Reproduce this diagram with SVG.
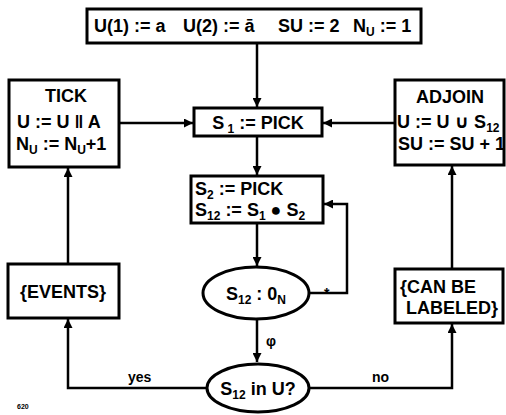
<svg xmlns="http://www.w3.org/2000/svg" width="506" height="415" viewBox="0 0 506 415">
<style>
.box{fill:#fff;stroke:#000;stroke-width:3}
.ln{fill:none;stroke:#000;stroke-width:2.5;marker-end:url(#ah)}
text{font-family:"Liberation Sans","DejaVu Sans",Arial,sans-serif;font-weight:bold;font-size:18px;fill:#000}
.c{text-anchor:middle}
.lbl{font-size:14px}
.sub{font-size:12px}
</style>
<defs>
<marker id="ah" viewBox="0 0 10 10" refX="10" refY="5" markerWidth="9" markerHeight="9" markerUnits="userSpaceOnUse" orient="auto">
<path d="M0,0 L10,5 L0,10 Z" fill="#000"/>
</marker>
</defs>
<rect width="506" height="415" fill="#fff"/>
<g id="connectors">
<path class="ln" d="M257,43 V107"/>
<path class="ln" d="M119,123 H193"/>
<path class="ln" d="M395,123 H323"/>
<path class="ln" d="M257,136 V175"/>
<path class="ln" d="M257,223 V266"/>
<path class="ln" d="M310,293 H347 V204 H324"/>
<path class="ln" d="M257,320 V362"/>
<path class="ln" d="M207,388 H68 V319"/>
<path class="ln" d="M68,263 V168"/>
<path class="ln" d="M310,388 H452 V324"/>
<path class="ln" d="M452,269 V166"/>
<text class="lbl" x="128" y="382">yes</text>
<text class="lbl" x="372" y="382">no</text>
<text class="lbl" x="266" y="346">φ</text>
<text class="lbl" x="324" y="298">*</text>
</g>
<g id="init">
<rect class="box" x="87" y="9" width="334" height="34"/>
<text x="94" y="32">U(1) := a</text>
<text x="183" y="32">U(2) := ā</text>
<text x="278" y="32">SU := 2</text>
<text x="353" y="32">N<tspan class="sub" dy="4">U</tspan><tspan dy="-4"> := 1</tspan></text>
</g>
<g id="tick">
<rect class="box" x="9" y="80" width="110" height="87"/>
<text class="c" x="66" y="102">TICK</text>
<text x="17" y="128">U := U ‖ A</text>
<text x="16" y="150">N<tspan class="sub" dy="4">U</tspan><tspan dy="-4"> := N</tspan><tspan class="sub" dy="4">U</tspan><tspan dy="-4">+1</tspan></text>
</g>
<g id="s1pick">
<rect class="box" x="194" y="108" width="128" height="28"/>
<text class="c" x="258" y="129">S<tspan class="sub" dy="4"> 1</tspan><tspan dy="-4"> := PICK</tspan></text>
</g>
<g id="adjoin">
<rect class="box" x="395" y="80" width="109" height="85"/>
<text class="c" x="450" y="103">ADJOIN</text>
<text x="397" y="128">U := U ∪ S<tspan class="sub" dy="4">12</tspan></text>
<text x="398" y="150">SU := SU + 1</text>
</g>
<g id="s2pick">
<rect class="box" x="191" y="176" width="132" height="47"/>
<text x="195" y="195">S<tspan class="sub" dy="4">2</tspan><tspan dy="-4"> := PICK</tspan></text>
<text x="195" y="216">S<tspan class="sub" dy="4">12</tspan><tspan dy="-4"> := S</tspan><tspan class="sub" dy="4">1</tspan><tspan dy="-4"> ● S</tspan><tspan class="sub" dy="4">2</tspan></text>
</g>
<g id="test0">
<ellipse class="box" cx="256" cy="293" rx="53" ry="26"/>
<text class="c" x="256" y="300">S<tspan class="sub" dy="4">12</tspan><tspan dy="-4"> : 0</tspan><tspan class="sub" dy="4">N</tspan></text>
</g>
<g id="testU">
<ellipse class="box" cx="258" cy="388" rx="51" ry="24"/>
<text class="c" x="258" y="395">S<tspan class="sub" dy="4">12</tspan><tspan dy="-4"> in U?</tspan></text>
</g>
<g id="events">
<rect class="box" x="8" y="264" width="111" height="54"/>
<text class="c" x="63" y="298">{EVENTS}</text>
</g>
<g id="labeled">
<rect class="box" x="395" y="269" width="108" height="54"/>
<text x="400" y="293">{CAN BE</text>
<text x="406" y="314">LABELED}</text>
</g>
<text x="17" y="409" style="font-size:7px">620</text>
</svg>
